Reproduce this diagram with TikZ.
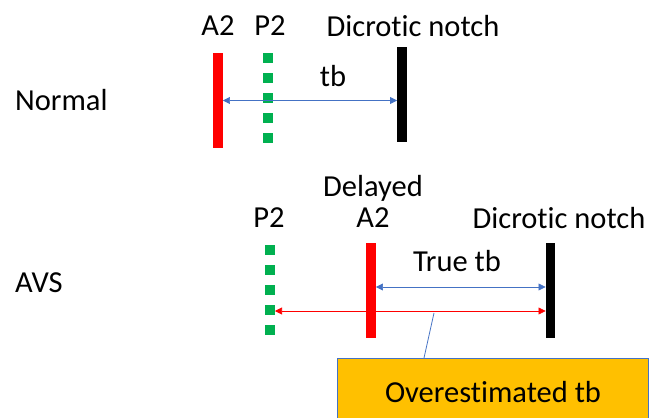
\documentclass[tikz,border=0pt]{standalone}
\usepackage{fontspec}
\setmainfont{Carlito}[Ligatures=NoCommon]
\usetikzlibrary{arrows.meta}
\definecolor{barblue}{RGB}{68,114,196}
\definecolor{dotgreen}{RGB}{0,176,80}
\definecolor{calloutorange}{RGB}{255,192,0}
\begin{document}
\begin{tikzpicture}[
		x=1pt,y=-1pt,
		lbl/.style={font=\fontsize{30.5}{33}\selectfont,inner sep=0pt},
		bar/.style={minimum width=9.5,minimum height=95,inner sep=0pt},
		pdots/.style={dotgreen,line width=10,dash pattern=on 10 off 10},
		arr/.style={{Triangle[width=7pt,length=7pt]}-{Triangle[width=7pt,length=7pt]},line width=0.7pt}
		]
		\useasboundingbox (0,0) rectangle (654,418);
		% normal case
		\node[lbl,anchor=west] (Nlbl) at (15,100) {Normal};
		\node[bar,fill=red] (A2n) at (218,100.5) {};
		\draw[pdots] (268,53) -- (268,143);
		\node[bar,fill=black] (DNn) at (402,94.5) {};
		\node[lbl] (A2nl) at (218,26) {A2};
		\node[lbl] (P2nl) at (270,26) {P2};
		\node[lbl] (DNnl) at (413,26) {Dicrotic notch};
		\draw[arr,barblue] (A2n.east) to (DNn.west |- A2n.east);
		\node[lbl] (tbn) at (333,76) {tb};
		% AVS case
		\node[lbl,anchor=west] (Albl) at (15,283) {AVS};
		\draw[pdots] (270,245) -- (270,335);
		\node[bar,fill=red] (A2a) at (371,290) {};
		\node[bar,fill=black] (DNa) at (550.5,290) {};
		\node[lbl] (P2al) at (269,218) {P2};
		\node[lbl] (A2al) at (373,218) {A2};
		\node[lbl] (dly) at (373,188) {Delayed};
		\node[lbl] (DNal) at (559,218) {Dicrotic notch};
		\node[lbl] (ttb) at (457,261) {True tb};
		\coordinate (P2a) at (275,311);
		\draw[arr,barblue] ([yshift=3]A2a.east) to ([yshift=3]DNa.west);
		\draw[arr,red,line width=0.6pt] (P2a) to (DNa.west |- P2a);
		% callout
		\node[draw=barblue,fill=calloutorange,line width=0.8pt,minimum width=311,minimum height=72,lbl,anchor=north west] (ovr) at (337,358) {};
		\node[lbl] (ovrl) at (493,392) {Overestimated tb};
		\coordinate (ptr) at (434,313);
		\draw[barblue,line width=0.8pt] (ptr) -- (424,358);
	\end{tikzpicture}
\end{document}
